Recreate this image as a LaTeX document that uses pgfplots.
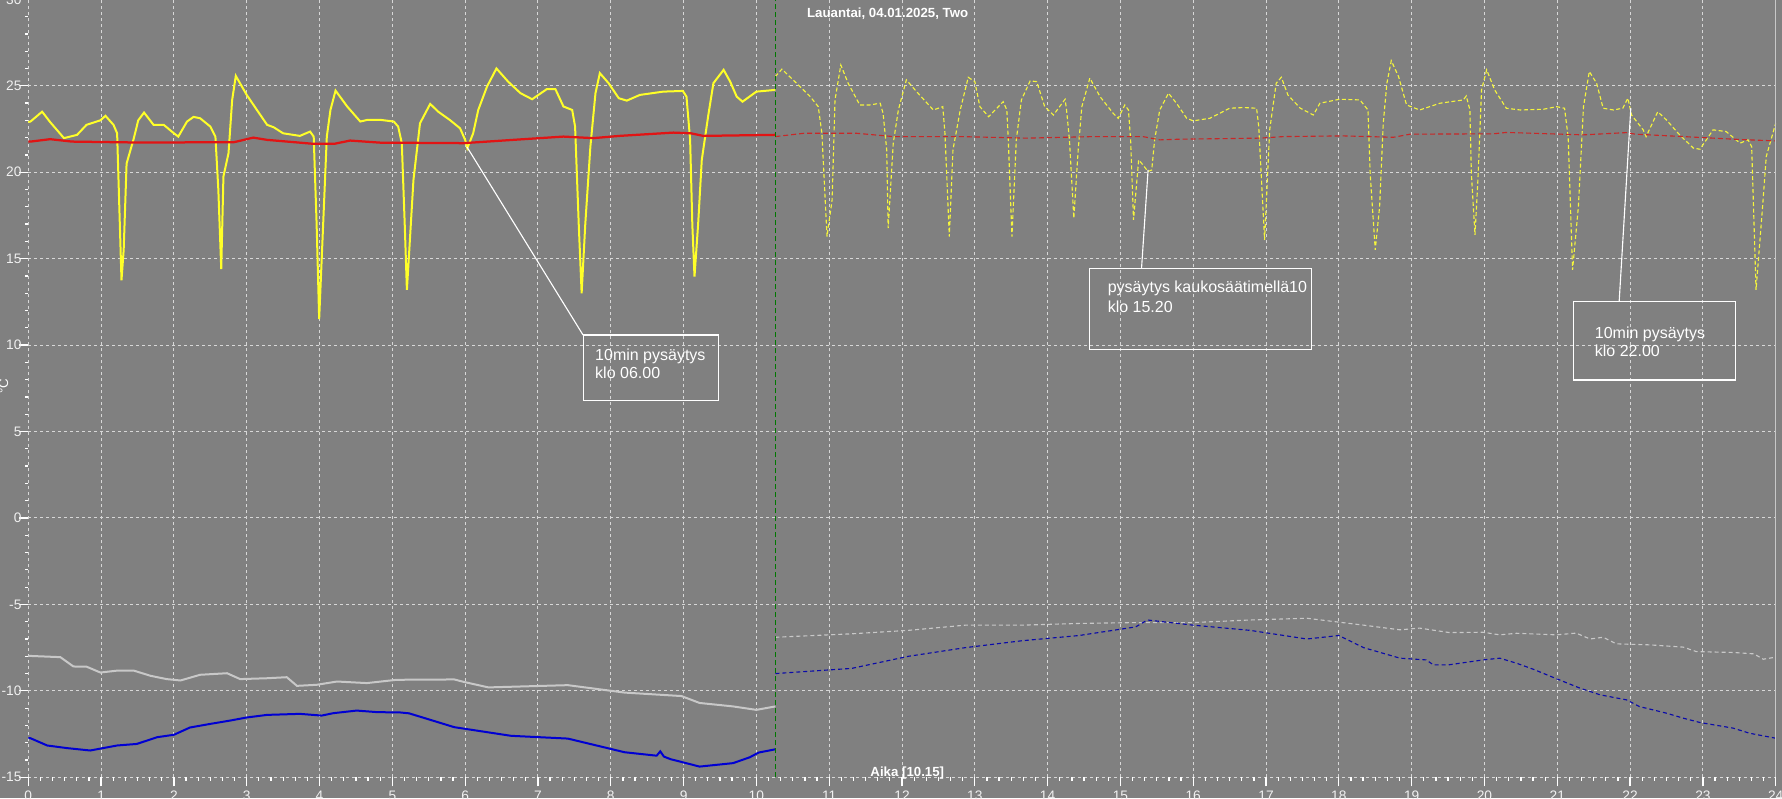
\documentclass[border=0pt]{standalone}
\usepackage{fontspec}
\setmainfont{Liberation Sans}
\usepackage{pgfplots}
\pgfplotsset{compat=1.18}
\definecolor{bg}{RGB}{128,128,128}
\definecolor{gridc}{RGB}{215,215,215}
\definecolor{ylw}{RGB}{255,255,40}
\definecolor{ylwd}{RGB}{245,245,60}
\definecolor{redc}{RGB}{225,20,20}
\definecolor{redd}{RGB}{200,40,40}
\definecolor{grayc}{RGB}{200,200,200}
\definecolor{grayd}{RGB}{200,200,200}
\definecolor{bluec}{RGB}{0,0,210}
\definecolor{blued}{RGB}{10,10,170}
\definecolor{greenc}{RGB}{0,120,0}
\begin{document}
\begin{tikzpicture}
\fill[bg] (-11.32pt,-8.28pt) rectangle (701.48pt,310.92pt);
\begin{axis}[
  at={(0,0)}, anchor=south west,
  scale only axis, width=698.96pt, height=311.2pt,
  xmin=0, xmax=24, ymin=-15, ymax=30,
  xtick={0,1,...,24}, ytick={-15,-10,...,30},
  minor x tick num=5, minor y tick num=4,
  tick pos=left, tick align=outside,
  major tick length=3.6pt, minor tick length=1.4pt,
  every tick/.style={white, line width=0.5pt},
  axis line style={draw=none},
  grid=major,
  major grid style={gridc, line width=0.4pt, dash pattern=on 1.2pt off 1.2pt},
  ticklabel style={font=\fontsize{5.5}{6}\selectfont, text=white!94!black},
  /pgf/number format/assume math mode=true,
  xticklabel style={yshift=1.6pt},
  yticklabel style={xshift=4.4pt},
  clip=false,
]
% yellow solid
\addplot[ylw, line width=0.8pt] coordinates {
(0.0,22.9) (0.03,22.93) (0.19,23.5) (0.3,22.9) (0.49,21.97) (0.67,22.16) (0.80,22.74) (0.99,23.0) (1.06,23.26) (1.17,22.74) (1.22,22.25) (1.25,18) (1.28,13.75) (1.31,15.5) (1.35,20.5) (1.45,21.97) (1.51,23.0) (1.59,23.45) (1.72,22.74) (1.86,22.74) (2.0,22.25) (2.06,22.06) (2.18,22.93) (2.27,23.2) (2.36,23.12) (2.50,22.64) (2.57,22.06) (2.61,19) (2.65,14.4) (2.68,19.75) (2.75,21.1) (2.80,24.18) (2.85,25.57) (3.0,24.47) (3.14,23.6) (3.28,22.74) (3.37,22.6) (3.50,22.25) (3.73,22.1) (3.87,22.35) (3.92,22.06) (3.96,17) (3.995,11.5) (4.04,16) (4.10,22.06) (4.15,23.6) (4.22,24.72) (4.38,23.8) (4.56,22.93) (4.65,23.02) (4.83,23.03) (5.02,22.93) (5.08,22.64) (5.13,21.68) (5.17,17) (5.20,13.19) (5.24,16) (5.29,19.55) (5.38,22.83) (5.52,23.95) (5.63,23.5) (5.79,23.02) (5.93,22.54) (6.00,21.87) (6.03,21.39) (6.11,22.25) (6.18,23.6) (6.30,24.95) (6.43,26.0) (6.59,25.24) (6.76,24.57) (6.92,24.22) (7.12,24.8) (7.24,24.8) (7.35,23.8) (7.47,23.6) (7.51,22.64) (7.56,17) (7.60,13.0) (7.65,17) (7.72,21.48) (7.79,24.57) (7.85,25.73) (7.97,25.15) (8.11,24.28) (8.22,24.14) (8.40,24.47) (8.72,24.66) (8.99,24.7) (9.04,24.37) (9.09,21.87) (9.12,17) (9.15,13.96) (9.20,17) (9.25,20.71) (9.34,23.31) (9.41,25.15) (9.55,25.92) (9.64,25.24) (9.73,24.37) (9.81,24.08) (10.0,24.66) (10.26,24.76)
};
% yellow dashed
\addplot[ylwd, line width=0.45pt, dash pattern=on 1.6pt off 1pt] coordinates {
(10.26,25.53) (10.35,25.96) (10.60,24.95) (10.74,24.37) (10.85,23.79) (10.90,22.25) (10.97,16.28) (11.04,18.4) (11.08,24.18) (11.16,26.2) (11.26,25.15) (11.42,23.89) (11.56,23.89) (11.70,23.99) (11.74,23.41) (11.79,21.29) (11.81,16.76) (11.88,21.68) (11.95,23.6) (12.06,25.34) (12.20,24.66) (12.43,23.6) (12.56,23.79) (12.59,22.25) (12.65,16.28) (12.70,21.29) (12.80,23.6) (12.91,25.49) (13.0,25.24) (13.07,23.79) (13.19,23.21) (13.39,24.08) (13.44,23.6) (13.46,21.87) (13.51,16.28) (13.57,21.87) (13.64,24.18) (13.76,25.28) (13.85,25.24) (13.96,23.79) (14.08,23.31) (14.24,24.22) (14.26,23.6) (14.30,21.87) (14.36,17.34) (14.42,21.29) (14.47,23.79) (14.58,25.44) (14.72,24.37) (14.90,23.41) (14.97,23.12) (15.06,23.89) (15.11,23.6) (15.14,21.87) (15.18,17.24) (15.25,20.71) (15.29,20.52) (15.38,20.04) (15.43,20.13) (15.47,21.87) (15.54,23.6) (15.66,24.57) (15.77,23.99) (15.91,23.12) (16.0,22.97) (16.23,23.12) (16.50,23.7) (16.69,23.74) (16.87,23.7) (16.90,22.64) (16.98,16.08) (17.05,22.45) (17.14,25.15) (17.21,25.49) (17.30,24.47) (17.47,23.7) (17.65,23.31) (17.74,23.99) (18.01,24.22) (18.29,24.18) (18.40,23.6) (18.43,19.94) (18.50,15.51) (18.56,18.01) (18.61,22.83) (18.66,25.15) (18.72,26.45) (18.82,25.53) (18.93,23.89) (19.11,23.6) (19.39,23.99) (19.71,24.18) (19.75,24.41) (19.80,23.6) (19.82,19.94) (19.87,16.37) (19.91,19.55) (19.96,24.76) (20.03,25.92) (20.14,24.76) (20.30,23.7) (20.49,23.6) (20.81,23.64) (20.99,23.79) (21.10,23.7) (21.15,22.0) (21.21,14.35) (21.29,18.01) (21.36,23.79) (21.44,25.82) (21.54,25.15) (21.63,23.7) (21.77,23.6) (21.90,23.7) (21.97,24.28) (22.02,23.31) (22.18,22.45) (22.22,22.06) (22.38,23.5) (22.50,23.02) (22.68,22.16) (22.87,21.39) (22.96,21.33) (23.14,22.45) (23.32,22.35) (23.51,21.68) (23.62,21.87) (23.67,21.48) (23.73,13.19) (23.82,18.01) (23.87,20.9) (24.0,22.83)
};
% red solid
\addplot[redc, line width=0.9pt] coordinates {
(0.0,21.77) (0.03,21.77) (0.30,21.91) (0.6,21.77) (1.45,21.72) (2.82,21.73) (3.09,22.0) (3.28,21.87) (3.92,21.64) (4.2,21.64) (4.42,21.83) (4.83,21.71) (5.98,21.68) (6.66,21.87) (7.35,22.06) (7.76,21.97) (8.12,22.1) (8.86,22.29) (9.1,22.25) (9.27,22.1) (10.26,22.16)
};
% red dashed
\addplot[redd, line width=0.45pt, dash pattern=on 2pt off 1.2pt] coordinates {
(10.26,22.06) (10.65,22.25) (11.38,22.25) (11.88,22.06) (12.80,22.06) (13.71,21.97) (14.63,22.06) (15.31,22.06) (15.54,21.87) (15.82,21.91) (16.92,21.97) (17.24,22.06) (18.06,22.1) (18.75,22.02) (18.98,22.2) (20.12,22.22) (20.3,22.3) (21.36,22.16) (21.95,22.29) (22.07,22.2) (22.73,22.06) (23.42,21.91) (23.64,21.87) (24.0,21.81)
};
% gray solid
\addplot[grayc, line width=0.8pt] coordinates {
(0.0,-7.98) (0.03,-7.98) (0.44,-8.05) (0.62,-8.59) (0.8,-8.6) (0.99,-8.94) (1.22,-8.83) (1.45,-8.83) (1.68,-9.13) (1.90,-9.32) (2.09,-9.4) (2.36,-9.07) (2.73,-8.98) (2.91,-9.32) (3.28,-9.27) (3.55,-9.21) (3.69,-9.71) (3.96,-9.65) (4.24,-9.46) (4.65,-9.55) (5.06,-9.36) (5.85,-9.34) (6.0,-9.5) (6.32,-9.8) (7.41,-9.67) (8.19,-10.1) (8.97,-10.3) (9.22,-10.7) (9.68,-10.9) (10.0,-11.1) (10.26,-10.9)
};
% gray dashed
\addplot[grayd, line width=0.45pt, dash pattern=on 1.6pt off 1.2pt] coordinates {
(10.26,-6.9) (11.31,-6.7) (12.09,-6.5) (12.87,-6.2) (13.65,-6.2) (14.43,-6.1) (15.21,-6.05) (16.0,-6.05) (16.78,-5.9) (17.56,-5.8) (18.34,-6.2) (18.84,-6.47) (19.11,-6.37) (19.52,-6.63) (19.98,-6.61) (20.21,-6.76) (20.44,-6.67) (20.99,-6.76) (21.26,-6.66) (21.45,-7.0) (21.63,-6.9) (21.81,-7.28) (22.27,-7.34) (22.73,-7.47) (22.91,-7.73) (23.42,-7.78) (23.70,-7.86) (23.83,-8.17) (24.0,-8.05)
};
% blue solid
\addplot[bluec, line width=0.8pt] coordinates {
(0.0,-12.74) (0.03,-12.74) (0.26,-13.16) (0.53,-13.31) (0.85,-13.45) (1.22,-13.16) (1.49,-13.07) (1.77,-12.68) (2.0,-12.54) (2.22,-12.12) (2.50,-11.91) (2.77,-11.72) (3.0,-11.54) (3.28,-11.39) (3.73,-11.33) (4.03,-11.43) (4.19,-11.29) (4.51,-11.14) (4.79,-11.23) (5.11,-11.25) (5.23,-11.3) (5.85,-12.1) (6.63,-12.6) (7.41,-12.76) (8.19,-13.55) (8.63,-13.75) (8.68,-13.5) (8.73,-13.8) (8.82,-13.95) (9.22,-14.38) (9.68,-14.18) (9.91,-13.84) (10.03,-13.57) (10.26,-13.38)
};
% blue dashed
\addplot[blued, line width=0.45pt, dash pattern=on 1.6pt off 1.2pt] coordinates {
(10.26,-9.0) (11.31,-8.7) (12.09,-8.0) (12.87,-7.5) (13.65,-7.1) (14.43,-6.8) (15.21,-6.3) (15.37,-5.9) (16.0,-6.2) (16.78,-6.5) (17.56,-7.0) (18.0,-6.8) (18.34,-7.5) (18.84,-8.11) (19.2,-8.21) (19.30,-8.5) (19.5,-8.5) (19.98,-8.21) (20.21,-8.11) (20.44,-8.4) (20.67,-8.75) (20.99,-9.3) (21.31,-9.84) (21.59,-10.23) (21.95,-10.52) (22.13,-10.91) (22.50,-11.29) (22.73,-11.58) (22.96,-11.83) (23.42,-12.16) (23.64,-12.45) (24.0,-12.74)
};
% current-time line
\addplot[greenc, line width=0.5pt, dash pattern=on 2pt off 1.2pt] coordinates {(10.26,-15) (10.26,30)};
% right frame
\draw[grayc, line width=0.4pt] (axis cs:24,-15) -- (axis cs:24,30);
% titles
\node[anchor=west, inner sep=0, text=white, font=\bfseries\fontsize{5.3}{6}\selectfont] at (axis cs:10.69,29.19) {Lauantai, 04.01.2025, Two};
\node[anchor=west, inner sep=0, text=white, font=\bfseries\fontsize{5.3}{6}\selectfont] at (axis cs:11.56,-14.73) {Aika [10.15]};
\node[xshift=-9.9pt, rotate=90, inner sep=0, text=white, font=\fontsize{5.3}{6}\selectfont] at (axis cs:0,7.63) {°C};
% annotations
\begin{scope}[white, line width=0.45pt]
\draw (axis cs:6.025,21.46) -- (axis cs:7.62,10.58);
\draw (axis cs:7.62,10.58) rectangle (axis cs:9.48,6.78);
\draw (axis cs:15.38,20.13) -- (axis cs:15.29,14.44);
\draw (axis cs:14.57,14.44) rectangle (axis cs:17.63,9.76);
\draw (axis cs:22.01,23.70) -- (axis cs:21.85,12.51);
\draw (axis cs:21.22,12.51) rectangle (axis cs:23.45,7.98);
\end{scope}
\begin{scope}[every node/.style={anchor=west, inner sep=0, text=white, font=\fontsize{6.4}{7}\selectfont}]
\node at (axis cs:7.78,9.37) {10min pysäytys};
\node at (axis cs:7.78,8.37) {klo 06.00};
\node at (axis cs:14.82,13.29) {pysäytys kaukosäätimellä10};
\node at (axis cs:14.82,12.22) {klo 15.20};
\node at (axis cs:21.51,10.64) {10min pysäytys};
\node at (axis cs:21.51,9.66) {klo 22.00};
\end{scope}
\end{axis}
\pgfresetboundingbox
\path[use as bounding box] (-11.32pt,-8.28pt) rectangle (701.48pt,310.92pt);
\end{tikzpicture}
\end{document}
